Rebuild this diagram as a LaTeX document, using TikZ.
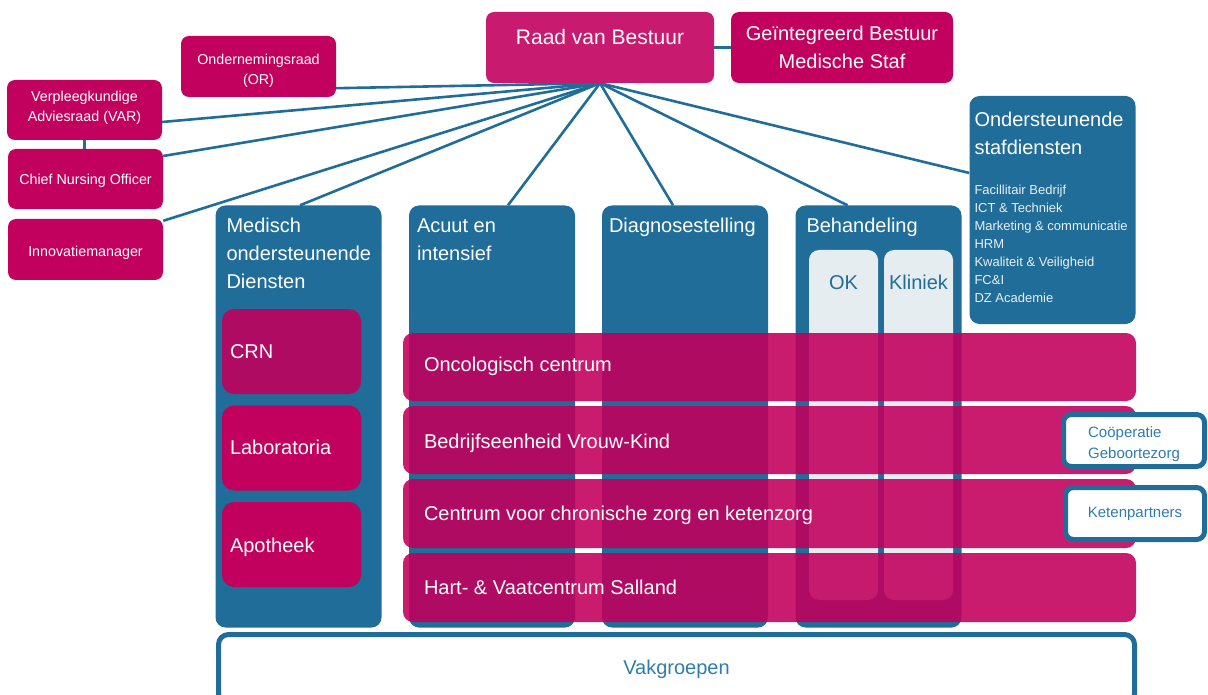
\documentclass[tikz,border=0pt]{standalone}
\usepackage{fontspec}
\setmainfont{Liberation Sans}
\usetikzlibrary{calc,backgrounds}

\definecolor{dzblue}{RGB}{31,109,152}
\definecolor{dzmagenta}{RGB}{194,0,93}
\definecolor{dzrose}{RGB}{200,26,110}
\definecolor{dzpale}{RGB}{230,237,241}
\definecolor{dzlabel}{RGB}{46,125,175}

\begin{document}
\begin{tikzpicture}[x=1pt, y=-1pt,
        board/.style={fill=dzmagenta, rounded corners=8pt, inner sep=0pt},
        boardtext/.style={inner sep=0pt, text=white, align=center, font=\fontsize{14.3}{20}\selectfont},
        column/.style={fill=dzblue, rounded corners=10pt, inner sep=0pt, minimum width=166pt, minimum height=422pt},
        room/.style={fill=dzpale, rounded corners=10pt, inner sep=0pt, minimum width=69pt, minimum height=350pt},
        unit/.style={fill=dzmagenta, fill opacity=0.89, rounded corners=10pt, inner sep=0pt},
        partner/.style={draw=dzblue, line width=5pt, fill=white, rounded corners=8pt, inner sep=0pt, text=dzlabel, align=left, font=\fontsize{15}{21}\selectfont},
        heading/.style={anchor=north west, inner sep=0pt, text=white, align=left, font=\fontsize{20}{28}\selectfont},
        inlabel/.style={anchor=base west, inner sep=0pt, text=white, font=\fontsize{20}{24}\selectfont},
        link/.style={draw=dzblue, line width=2.6pt}
    ]
    \useasboundingbox (0,0) rectangle (1208,695);

    % bestuur en raden
    \node[board, fill=dzrose, minimum width=228pt, minimum height=71pt] (rvb) at (600,47.5) {};
    \node[inlabel, anchor=base, font=\fontsize{21}{24}\selectfont] (rvbtext) at ($(rvb.north)+(0,32.5)$) {Raad van Bestuur};
    \node[board, minimum width=222pt, minimum height=71pt] (gbms) at (842,47.5) {};
    \node[boardtext, font=\fontsize{20}{28}\selectfont] (gbmstext) at (gbms.center) {Geïntegreerd Bestuur\\Medische Staf};
    \node[board, minimum width=155pt, minimum height=61pt] (or) at (258.5,66.5) {};
    \node[boardtext] (ortext) at ($(or.center)+(0,4)$) {Ondernemingsraad\\(OR)};
    \node[board, minimum width=155pt, minimum height=60pt] (var) at (84.5,110) {};
    \node[boardtext] (vartext) at ($(var.center)+(0,-2)$) {Verpleegkundige\\Adviesraad (VAR)};
    \node[board, minimum width=155pt, minimum height=60pt] (cno) at (85.5,179) {};
    \node[boardtext] (cnotext) at ($(cno.center)+(0,2)$) {Chief Nursing Officer};
    \node[board, minimum width=155pt, minimum height=61pt] (inno) at (85.5,249.5) {};
    \node[boardtext] (innotext) at ($(inno.center)+(0,3.5)$) {Innovatiemanager};

    % kolommen
    \node[column] (med) at (298.5,416.5) {};
    \node[column] (acu) at (492,416.5) {};
    \node[column] (dia) at (685,416.5) {};
    \node[column] (beh) at (878.5,416.5) {};
    \node[heading] (medtext) at ($(med.north west)+(11,13)$) {Medisch\\ondersteunende\\Diensten};
    \node[heading] (acutext) at ($(acu.north west)+(8,13)$) {Acuut en\\intensief};
    \node[heading] (diatext) at ($(dia.north west)+(7,13)$) {Diagnosestelling};
    \node[heading] (behtext) at ($(beh.north west)+(11,13)$) {Behandeling};

    \node[room] (ok) at (843.5,425) {};
    \node[room] (kli) at (918.5,425) {};
    \node[text=dzblue, font=\fontsize{20}{24}\selectfont] (oktext) at ($(ok.north)+(0,33)$) {OK};
    \node[text=dzblue, font=\fontsize{20}{24}\selectfont] (klitext) at ($(kli.north)+(0,33)$) {Kliniek};

    \node[column, minimum height=228pt] (staf) at (1052.5,210) {};
    \node[heading] (staftitle) at ($(staf.north west)+(5,16)$) {Ondersteunende\\stafdiensten};
    \node[heading, text=white!90!dzblue, font=\fontsize{13}{18}\selectfont] (staflist) at ($(staf.north west)+(5,89)$)
        {Facillitair Bedrijf\\ICT \& Techniek\\Marketing \& communicatie\\HRM\\Kwaliteit \& Veiligheid\\FC\&I\\DZ Academie};

    % medisch ondersteunend
    \node[unit, rounded corners=12pt, minimum width=139pt, minimum height=85pt] (crn) at (291.5,351.5) {};
    \node[board, rounded corners=12pt, minimum width=139pt, minimum height=85pt] (lab) at (291.5,448) {};
    \node[board, rounded corners=12pt, minimum width=139pt, minimum height=85pt] (apo) at (291.5,544.5) {};
    \node[inlabel] (crntext) at ($(crn.west)+(8,6.5)$) {CRN};
    \node[inlabel] (labtext) at ($(lab.west)+(8,6)$) {Laboratoria};
    \node[inlabel] (apotext) at ($(apo.west)+(8,7.5)$) {Apotheek};

    % centra
    \node[unit, minimum width=733pt, minimum height=68pt] (onco) at (769.5,367) {};
    \node[unit, minimum width=733pt, minimum height=68pt] (vrouw) at (769.5,440) {};
    \node[unit, minimum width=733pt, minimum height=69pt] (chron) at (769.5,513.5) {};
    \node[unit, minimum width=733pt, minimum height=69pt] (hart) at (769.5,587.5) {};
    \node[inlabel] (oncotext) at ($(onco.west)+(21,4)$) {Oncologisch centrum};
    \node[inlabel] (vrouwtext) at ($(vrouw.west)+(21,8)$) {Bedrijfseenheid Vrouw-Kind};
    \node[inlabel] (chrontext) at ($(chron.west)+(21,6.5)$) {Centrum voor chronische zorg en ketenzorg};
    \node[inlabel] (harttext) at ($(hart.west)+(21,6.5)$) {Hart- \& Vaatcentrum Salland};

    % partners en vakgroepen
    \node[partner, minimum width=141pt, minimum height=52pt] (coop) at (1134,440.5) {};
    \node[inner sep=0pt, text=dzlabel, align=left, font=\fontsize{15}{21}\selectfont] (cooptext) at ($(coop.center)+(0,3.5)$) {Coöperatie\\Geboortezorg};
    \node[partner, minimum width=139pt, minimum height=52pt] (keten) at (1135,513.5) {Ketenpartners};
    \node[partner, rounded corners=10pt, minimum width=916pt, minimum height=69pt, font=\fontsize{20}{24}\selectfont] (vak) at (676.5,669) {Vakgroepen};

    \begin{scope}[on background layer]
        \coordinate (hub) at (rvb.south);
        \draw[link] (rvb.east) -- (gbms.west);
        \draw[link] (var.south) -- (var.south |- cno.north);
        \draw[link] (hub) -- ($(or.south east)+(0,-9)$);
        \draw[link] (hub) -- ($(var.east)+(0,12)$);
        \draw[link] (hub) -- ($(cno.east)+(0,-23)$);
        \draw[link] (hub) -- ($(inno.north east)+(0,2)$);
        \draw[link] (hub) -- ($(med.north)+(1.5,0)$);
        \draw[link] (hub) -- ($(acu.north)+(16,0)$);
        \draw[link] (hub) -- ($(dia.north)+(-12,0)$);
        \draw[link] (hub) -- ($(beh.north)+(-31,0)$);
        \draw[link] (hub) -- ($(staf.west)+(0,-37)$);
    \end{scope}
\end{tikzpicture}
\end{document}
